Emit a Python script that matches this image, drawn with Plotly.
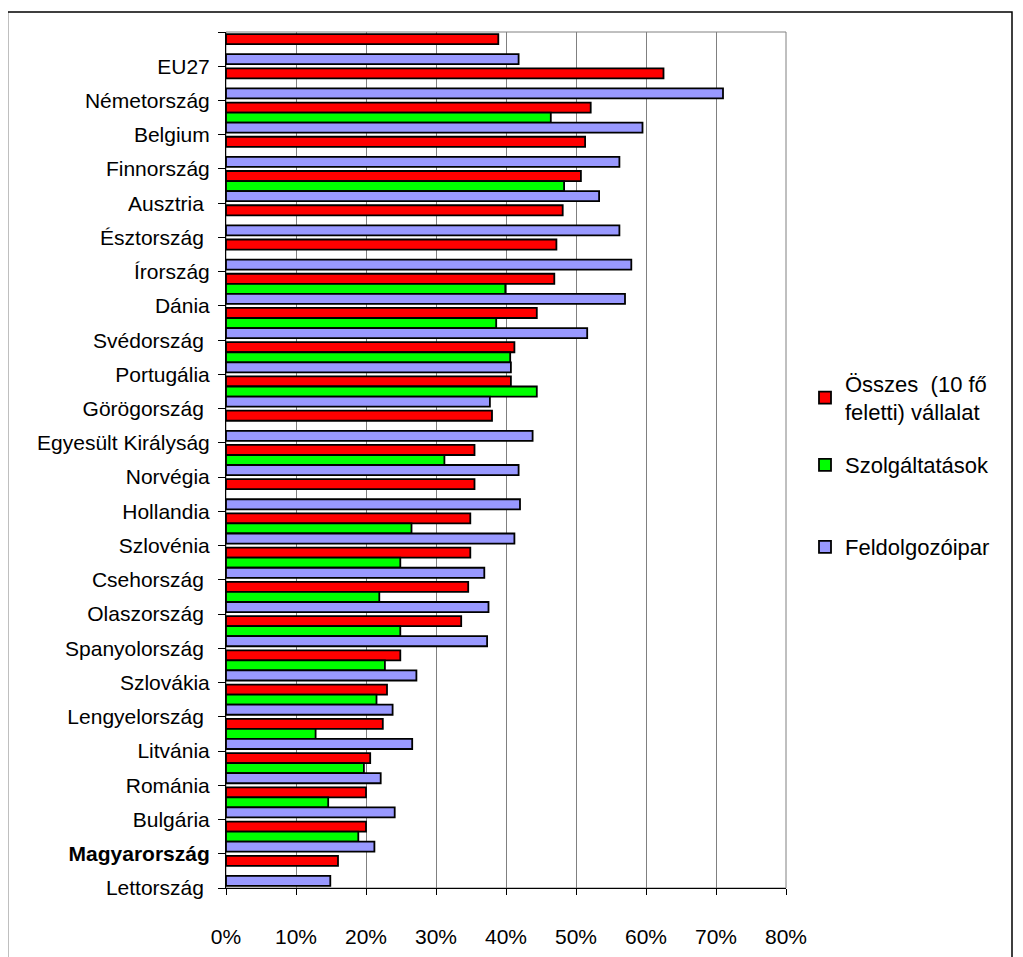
import plotly.graph_objects as go

# ---- data (top to bottom) ----
countries = ["EU27", "Németország", "Belgium", "Finnország", "Ausztria\u00a0",
             "Észtország\u00a0", "Írország", "Dánia", "Svédország\u00a0", "Portugália",
             "Görögország\u00a0", "Egyesült Királyság", "Norvégia", "Hollandia",
             "Szlovénia", "Csehország\u00a0", "Olaszország\u00a0", "Spanyolország\u00a0",
             "Szlovákia", "Lengyelország\u00a0", "Litvánia", "Románia", "Bulgária",
             "<b>Magyarország</b>", "Lettország\u00a0"]

osszes = [38.9, 62.5, 52.1, 51.3, 50.7, 48.1, 47.2, 46.9, 44.4, 41.2,
          40.7, 38.0, 35.5, 35.5, 34.9, 34.9, 34.6, 33.6, 24.9, 23.0,
          22.4, 20.6, 20.0, 20.0, 16.0]
szolg = [None, None, 46.4, None, 48.3, None, None, 39.9, 38.6, 40.6,
         44.4, None, 31.2, None, 26.5, 24.9, 21.9, 24.9, 22.7, 21.5,
         12.8, 19.7, 14.6, 18.9, None]
feldolg = [41.8, 71.0, 59.5, 56.2, 53.3, 56.2, 57.9, 57.0, 51.6, 40.7,
           37.7, 43.8, 41.8, 42.0, 41.2, 36.9, 37.5, 37.3, 27.2, 23.8,
           26.6, 22.1, 24.1, 21.2, 14.9]

x_ticks = [0, 10, 20, 30, 40, 50, 60, 70, 80]
x_tick_labels = ["0%", "10%", "20%", "30%", "40%", "50%", "60%", "70%", "80%"]

series_names = ["Összes \u00a0(10 fő<br>feletti) vállalat", "Szolgáltatások", "Feldolgozóipar"]
series_colors = ["#FF0000", "#00FF00", "#9999FF"]

# ---- figure (page has an 8px body margin, so work in page pixels minus 8) ----
OFF = 8
W, H = 1015, 949
L, T = 226 - OFF, 32 - OFF
R = W - (786 - OFF)
B = H - (888 - OFF)
pw, ph = W - L - R, H - T - B

n = len(countries)
pos = list(range(n))

fig = go.Figure()
for vals, name, col, lg in zip([osszes, szolg, feldolg], series_names, series_colors,
                               ["legend", "legend2", "legend3"]):
    fig.add_trace(go.Bar(
        x=vals, y=pos, orientation="h", name=name,
        marker=dict(color=col, line=dict(color="black", width=1.8)),
        legend=lg, showlegend=True,
    ))

def px2x(p):  # page pixel -> paper x
    return (p - OFF - L) / pw

def px2y(p):  # page pixel -> paper y
    return (H - B - (p - OFF)) / ph

font = "Liberation Sans, Arial, sans-serif"

legend_common = dict(font=dict(family=font, size=22, color="black"),
                     bgcolor="rgba(0,0,0,0)", borderwidth=0,
                     xanchor="left", yanchor="middle", x=px2x(805))

fig.update_layout(
    width=W, height=H,
    margin=dict(l=L, r=R, t=T, b=B, autoexpand=False),
    paper_bgcolor="white", plot_bgcolor="white",
    barmode="group", bargap=0.12, bargroupgap=0,
    showlegend=True,
    font=dict(family=font, size=21, color="black"),
    legend=dict(**legend_common, y=px2y(398)),
    legend2=dict(**legend_common, y=px2y(465)),
    legend3=dict(**legend_common, y=px2y(547)),
    xaxis=dict(
        range=[0, 80], tickvals=x_ticks, ticktext=x_tick_labels,
        showgrid=True, gridcolor="#808080", gridwidth=1,
        showline=True, linecolor="black", linewidth=1,
        ticks="outside", ticklen=6, tickcolor="black",
        zeroline=False, ticklabelstandoff=24,
        tickfont=dict(size=21),
    ),
    yaxis=dict(
        range=[n - 0.5, -0.5],
        tickvals=[-0.5] + [i + 0.5 for i in pos],
        ticktext=[""] + countries,
        showgrid=False, zeroline=False,
        showline=True, linecolor="black", linewidth=1,
        ticks="outside", ticklen=7, tickcolor="black",
        ticklabelstandoff=4,
        tickfont=dict(size=21),
    ),
    shapes=[
        dict(type="rect", xref="x domain", yref="y domain", x0=0, x1=1, y0=0, y1=1,
             line=dict(color="#808080", width=1), layer="below"),
        dict(type="rect", xref="paper", yref="paper",
             x0=px2x(7.5), x1=px2x(1012), y0=px2y(1000), y1=px2y(12),
             line=dict(color="black", width=1.5)),
    ],
)

fig.write_html("out.html")
